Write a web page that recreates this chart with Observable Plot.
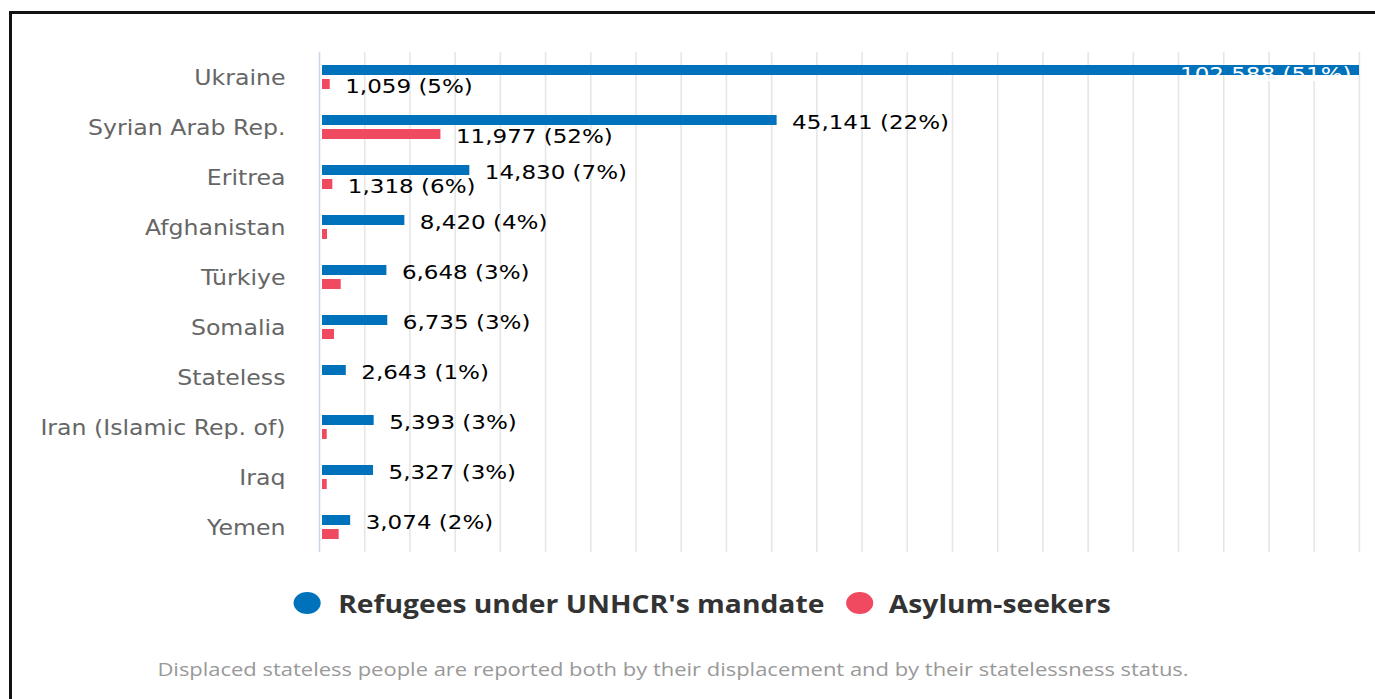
<!DOCTYPE html>
<html>
<head>
<meta charset="utf-8">
<script src="https://cdn.jsdelivr.net/npm/d3@7"></script>
<script src="https://cdn.jsdelivr.net/npm/@observablehq/plot@0.6"></script>
<style>
  html, body { margin: 0; padding: 0; background: #fff; overflow: hidden; width: 1375px; height: 699px; }
  #frame { position: absolute; left: 9px; top: 11px; width: 2000px; height: 2000px;
           border-top: 3px solid #111; border-left: 3px solid #111; box-sizing: border-box; }
  #chart { position: absolute; left: 0; top: 0; }
  #legend { position: absolute; left: 293px; top: 586px; display: flex; align-items: center;
            font-family: "Open Sans", sans-serif; font-weight: 700; font-size: 25px; color: #333; white-space: nowrap;
            transform: scaleX(1.13); transform-origin: 0 50%; }
  #legend .item { display: flex; align-items: center; }
  #caption { position: absolute; left: 0; width: 1346px; top: 657px; text-align: center;
             font-family: "Open Sans", sans-serif; font-size: 18px; color: #999; white-space: nowrap;
             transform: scaleX(1.22); transform-origin: 50% 50%; }
</style>
</head>
<body>
<div id="frame"></div>
<div id="chart"></div>
<div id="legend"></div>
<div id="caption"></div>
<script>
// ---- data ----
const countries = ["Ukraine", "Syrian Arab Rep.", "Eritrea", "Afghanistan", "Türkiye", "Somalia", "Stateless", "Iran (Islamic Rep. of)", "Iraq", "Yemen"];
const refugees = [102588, 45141, 14830, 8420, 6648, 6735, 2643, 5393, 5327, 3074];
const refugeesPct = [51, 22, 7, 4, 3, 3, 1, 3, 3, 2];
const asylumSeekers = [1059, 11977, 1318, 790, 2140, 1480, null, 760, 760, 1940];
const asylumPct = [5, 52, 6, null, null, null, null, null, null, null];
const seriesNames = ["Refugees under UNHCR's mandate", "Asylum-seekers"];
const seriesColors = ["#0072BC", "#EF4A60"];
const gridStep = 4460;
const caption = "Displaced stateless people are reported both by their displacement and by their statelessness status.";

// ---- build rows ----
const fmt = d3.format(",");
const rows = countries.map((c, i) => ({
  country: c,
  refugees: refugees[i],
  refLabel: `${fmt(refugees[i])} (${refugeesPct[i]}%)`,
  asylum: asylumSeekers[i],
  asyLabel: asylumPct[i] == null ? null : `${fmt(asylumSeekers[i])} (${asylumPct[i]}%)`
}));
const xMax = d3.max(refugees);
const ticks = d3.range(0, xMax + 1, gridStep);
const inside = r => r.refugees > 0.85 * xMax;

const font = "DejaVu Sans";
const chart = Plot.plot({
  width: 1375,
  height: 560,
  marginLeft: 319,
  marginRight: 16,
  marginTop: 52,
  marginBottom: 8,
  style: { fontFamily: "'DejaVu Sans', sans-serif", background: "transparent", overflow: "visible" },
  x: { domain: [0, xMax], axis: null },
  y: { domain: countries, axis: null, padding: 0 },
  marks: [
    Plot.ruleX(ticks.slice(1), { stroke: "#e6e6e6", strokeWidth: 1.6 }),
    Plot.ruleX([0], { stroke: "#ccd6eb", strokeWidth: 1.6 }),
    Plot.barX(rows, { x: "refugees", y: "country", fill: seriesColors[0], insetTop: 13, insetBottom: 27, insetLeft: 3, insetRight: 0 }),
    Plot.barX(rows.filter(r => r.asylum != null), { x: "asylum", y: "country", fill: seriesColors[1], insetTop: 27, insetBottom: 13, insetLeft: 3, insetRight: 0 }),
    Plot.text(countries, { x: () => 0, y: d => d, text: d => d, textAnchor: "end", dx: -34, dy: 1, fontSize: 21, fontFamily: font, fill: "#666", className: "al" }),
    Plot.text(rows.filter(r => !inside(r)), { x: "refugees", y: "country", text: "refLabel", textAnchor: "start", dx: 15, dy: -5, fontSize: 20, fontFamily: font, fill: "#000", className: "vl" }),
    Plot.text(rows.filter(inside), { x: "refugees", y: "country", text: "refLabel", textAnchor: "end", dx: -8, dy: -3, fontSize: 20, fontFamily: font, fill: "#fff", className: "vl" }),
    Plot.text(rows.filter(r => r.asyLabel != null), { x: "asylum", y: "country", text: "asyLabel", textAnchor: "start", dx: 15, dy: 9, fontSize: 20, fontFamily: font, fill: "#000", className: "vl" })
  ]
});
document.getElementById("chart").appendChild(chart);

// horizontal stretch of text glyphs (the reference text is wide), keeping anchor positions
function stretch(cls, sx) {
  chart.querySelectorAll("." + cls + " text, text." + cls).forEach(t => {
    const len = t.getComputedTextLength();
    if (len > 0) {
      t.setAttribute("lengthAdjust", "spacingAndGlyphs");
      t.setAttribute("textLength", (len * sx).toFixed(1));
    }
  });
}
stretch("al", 1.125);
stretch("vl", 1.15);

// ---- legend ----
const legend = document.getElementById("legend");
seriesNames.forEach((name, i) => {
  const item = document.createElement("div");
  item.className = "item";
  item.style.marginRight = i === 0 ? "19px" : "0";
  item.innerHTML = `<svg width="25" height="24" style="margin-right:${i === 0 ? 15 : 13}px"><ellipse cx="12.5" cy="12" rx="12" ry="11" fill="${seriesColors[i]}"/></svg><span>${name}</span>`;
  legend.appendChild(item);
});
document.getElementById("caption").textContent = caption;
</script>
</body>
</html>
